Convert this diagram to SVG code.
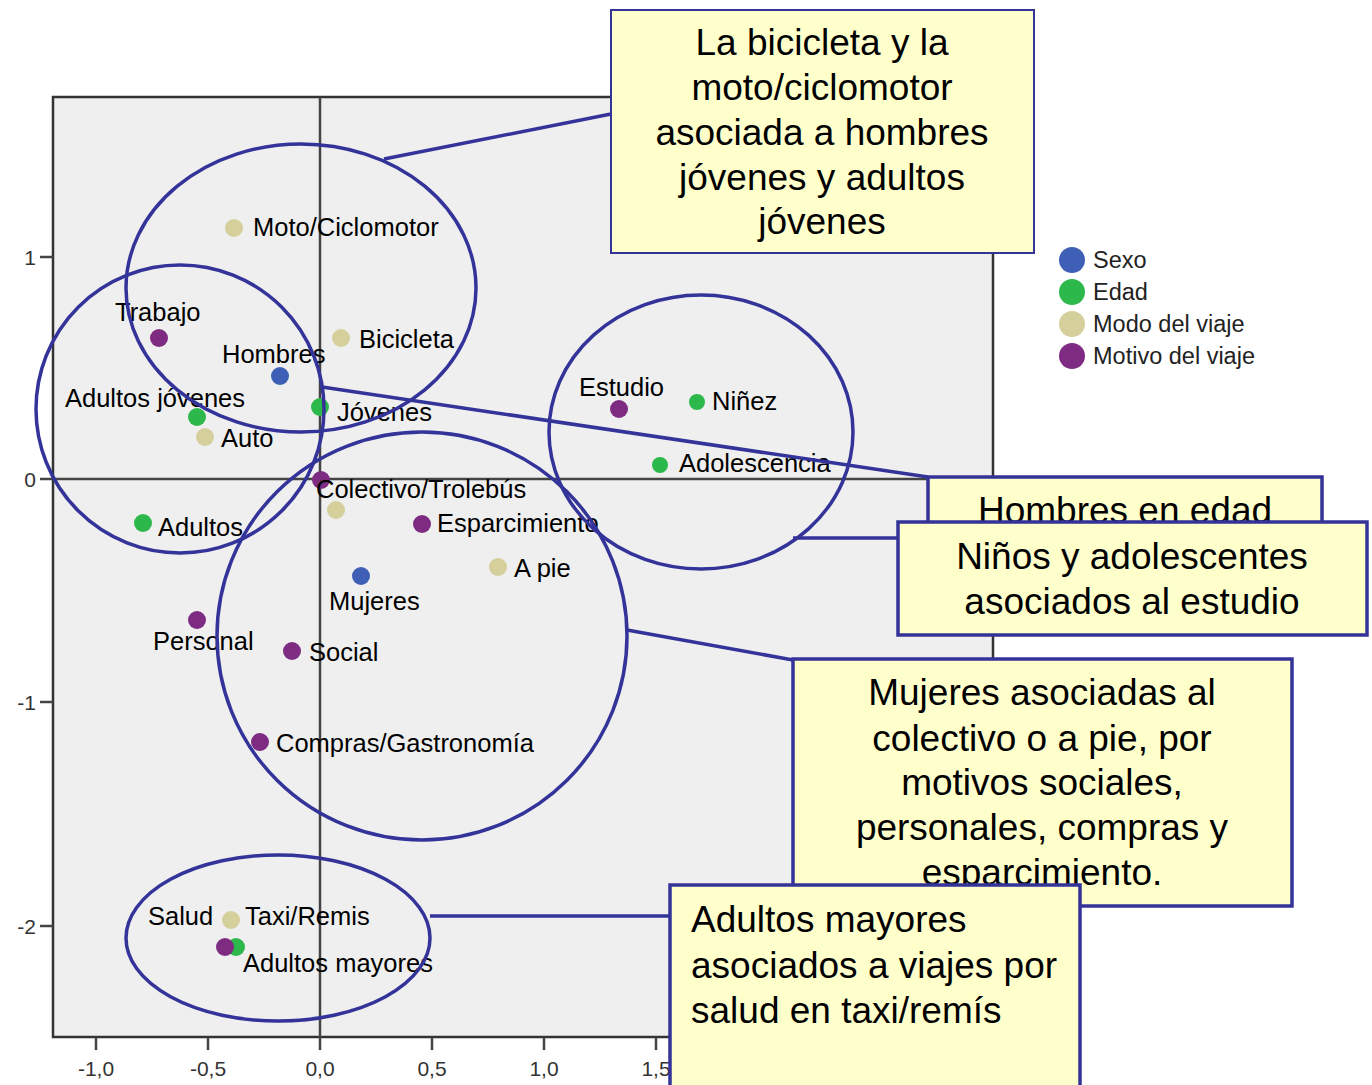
<svg xmlns="http://www.w3.org/2000/svg" width="1372" height="1085" viewBox="0 0 1372 1085">
<style>
.lbl{font-family:"Liberation Sans",Arial,sans-serif;font-size:25.5px;fill:#000}
.tick{font-family:"Liberation Sans",Arial,sans-serif;font-size:21px;fill:#333}
.leg{font-family:"Liberation Sans",Arial,sans-serif;font-size:23.5px;fill:#222}
.call{font-family:"Liberation Sans",Arial,sans-serif;font-size:37px;fill:#000}
.ell{fill:none;stroke:#333399;stroke-width:3.5}
.con{fill:none;stroke:#333399;stroke-width:3.5}
.box{fill:#ffffcc;stroke:#333399;stroke-width:3.5}
.sexo{fill:#3e5fb5}.edad{fill:#2db84c}.modo{fill:#d5cf9b}.motivo{fill:#7e2b82}
.ax{stroke:#444;stroke-width:2.5;fill:none}
</style>
<rect width="1372" height="1085" fill="#fff"/>
<g id="plot">
<rect x="53" y="97" width="940" height="940" fill="#efefef" stroke="#333" stroke-width="2.5"/>
<line class="ax" x1="320" y1="97" x2="320" y2="1037"/>
<line class="ax" x1="40" y1="479" x2="993" y2="479"/>
<g class="ax">
<line x1="40" y1="257" x2="53" y2="257"/><line x1="40" y1="702" x2="53" y2="702"/><line x1="40" y1="926" x2="53" y2="926"/>
<line x1="96" y1="1037" x2="96" y2="1050"/><line x1="208" y1="1037" x2="208" y2="1050"/><line x1="320" y1="1037" x2="320" y2="1050"/><line x1="432" y1="1037" x2="432" y2="1050"/><line x1="544" y1="1037" x2="544" y2="1050"/><line x1="656" y1="1037" x2="656" y2="1050"/>
</g>
<g class="tick" text-anchor="end">
<text x="36" y="265">1</text><text x="36" y="487">0</text><text x="36" y="710">-1</text><text x="36" y="934">-2</text>
</g>
<g class="tick" text-anchor="middle">
<text x="96" y="1076">-1,0</text><text x="208" y="1076">-0,5</text><text x="320" y="1076">0,0</text><text x="432" y="1076">0,5</text><text x="544" y="1076">1,0</text><text x="656" y="1076">1,5</text>
</g>
</g>
<g id="points">
<circle class="modo" cx="234" cy="228" r="9"/>
<circle class="motivo" cx="159" cy="338" r="9"/>
<circle class="sexo" cx="280" cy="376" r="9"/>
<circle class="modo" cx="341" cy="338" r="9"/>
<circle class="edad" cx="197" cy="417" r="9"/>
<circle class="edad" cx="320" cy="407" r="9"/>
<circle class="modo" cx="205" cy="437" r="9"/>
<circle class="motivo" cx="321" cy="480" r="9"/>
<circle class="modo" cx="336" cy="510" r="9"/>
<circle class="edad" cx="143" cy="523" r="9"/>
<circle class="motivo" cx="422" cy="524" r="9"/>
<circle class="modo" cx="498" cy="567" r="9"/>
<circle class="sexo" cx="361" cy="576" r="9"/>
<circle class="motivo" cx="197" cy="620" r="9"/>
<circle class="motivo" cx="292" cy="651" r="9"/>
<circle class="motivo" cx="260" cy="742" r="9"/>
<circle class="motivo" cx="619" cy="409" r="9"/>
<circle class="edad" cx="697" cy="402" r="8"/>
<circle class="edad" cx="660" cy="465" r="8"/>
<circle class="modo" cx="231" cy="920" r="9"/>
<circle class="edad" cx="236" cy="947" r="9"/>
<circle class="motivo" cx="225" cy="947" r="9"/>
</g>
<g id="labels" class="lbl">
<text x="253" y="236">Moto/Ciclomotor</text>
<text x="115" y="321">Trabajo</text>
<text x="222" y="363">Hombres</text>
<text x="359" y="348">Bicicleta</text>
<text x="65" y="407">Adultos jóvenes</text>
<text x="337" y="421">Jóvenes</text>
<text x="221" y="447">Auto</text>
<text x="316" y="498">Colectivo/Trolebús</text>
<text x="158" y="536">Adultos</text>
<text x="437" y="532">Esparcimiento</text>
<text x="514" y="577">A pie</text>
<text x="329" y="610">Mujeres</text>
<text x="153" y="650">Personal</text>
<text x="309" y="661">Social</text>
<text x="276" y="752">Compras/Gastronomía</text>
<text x="579" y="396">Estudio</text>
<text x="712" y="410">Niñez</text>
<text x="679" y="472">Adolescencia</text>
<text x="148" y="925">Salud</text>
<text x="245" y="925">Taxi/Remis</text>
<text x="243" y="972">Adultos mayores</text>
</g>
<g id="legend">
<circle class="sexo" cx="1072" cy="260" r="13"/><text class="leg" x="1093" y="268">Sexo</text>
<circle class="edad" cx="1072" cy="292" r="13"/><text class="leg" x="1093" y="300">Edad</text>
<circle class="modo" cx="1072" cy="324" r="13"/><text class="leg" x="1093" y="332">Modo del viaje</text>
<circle class="motivo" cx="1072" cy="356" r="13"/><text class="leg" x="1093" y="364">Motivo del viaje</text>
</g>
<g id="ellipses">
<ellipse class="ell" cx="301" cy="288" rx="175" ry="144"/>
<ellipse class="ell" cx="180" cy="409" rx="144" ry="144"/>
<ellipse class="ell" cx="422" cy="636" rx="205" ry="204"/>
<ellipse class="ell" cx="701" cy="432" rx="152" ry="137"/>
<ellipse class="ell" cx="278" cy="938" rx="152" ry="83"/>
</g>
<g id="connectors">
<line class="con" x1="384" y1="159" x2="611" y2="114"/>
<line class="con" x1="322" y1="387" x2="928" y2="477"/>
<line class="con" x1="793" y1="538" x2="898" y2="538"/>
<line class="con" x1="627" y1="630" x2="793" y2="660"/>
<line class="con" x1="430" y1="916" x2="670" y2="916"/>
</g>
<g id="box-bicicleta">
<rect x="611" y="10" width="423" height="243" fill="#ffffcc" stroke="#333399" stroke-width="2"/>
<g class="call" text-anchor="middle">
<text x="822" y="55">La bicicleta y la</text>
<text x="822" y="100">moto/ciclomotor</text>
<text x="822" y="145">asociada a hombres</text>
<text x="822" y="190">jóvenes y adultos</text>
<text x="822" y="234">jóvenes</text>
</g>
</g>
<g id="box-hombres">
<rect class="box" x="928" y="477" width="394" height="120"/>
<text class="call" x="1125" y="523" text-anchor="middle">Hombres en edad</text>
</g>
<g id="box-ninos">
<rect class="box" x="898" y="522" width="469" height="113"/>
<g class="call" text-anchor="middle">
<text x="1132" y="569">Niños y adolescentes</text>
<text x="1132" y="614">asociados al estudio</text>
</g>
</g>
<g id="box-mujeres">
<rect class="box" x="793" y="659" width="499" height="247"/>
<g class="call" text-anchor="middle">
<text x="1042" y="705">Mujeres asociadas al</text>
<text x="1042" y="751">colectivo o a pie, por</text>
<text x="1042" y="795">motivos sociales,</text>
<text x="1042" y="840">personales, compras y</text>
<text x="1042" y="885">esparcimiento.</text>
</g>
</g>
<g id="box-adultos">
<rect class="box" x="670" y="885" width="410" height="215"/>
<g class="call">
<text x="691" y="932">Adultos mayores</text>
<text x="691" y="978">asociados a viajes por</text>
<text x="691" y="1023">salud en taxi/remís</text>
</g>
</g>
</svg>
